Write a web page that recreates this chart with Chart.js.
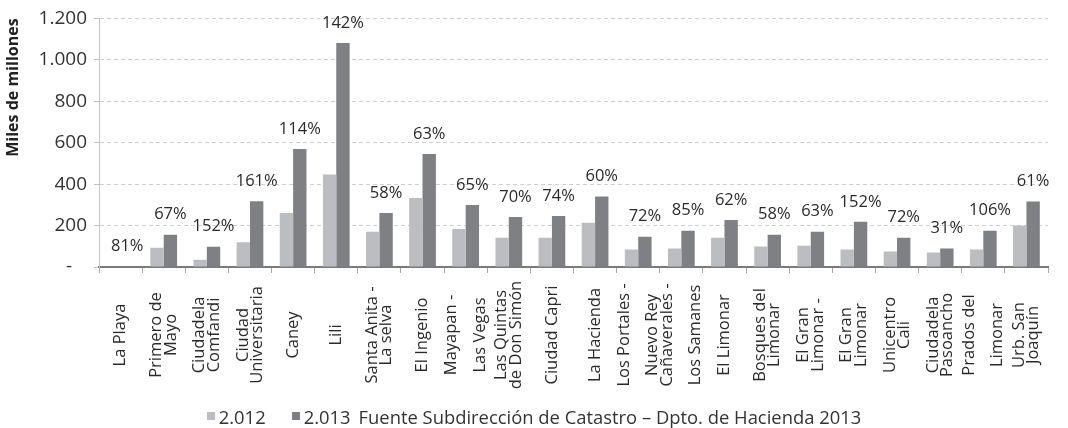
<!DOCTYPE html>
<html>
<head>
<meta charset="utf-8">
<script src="https://cdn.jsdelivr.net/npm/chart.js@4.4.1/dist/chart.umd.min.js"></script>
<style>
  html, body { margin: 0; padding: 0; background: #ffffff; }
  #wrap { position: relative; width: 1068px; height: 428px; overflow: hidden; }
  #c { position: absolute; left: 0; top: 0; }
  #legend { position: absolute; left: 0; top: 404px; width: 1068px; height: 24px;
            display: flex; justify-content: center; align-items: center;
            font-family: 'Open Sans', sans-serif; font-size: 18.4px; color: #333333; white-space: nowrap; }
  #legend .box { display: inline-block; width: 8px; height: 8px; margin-right: 4px; }
  #legend .gap1 { display: inline-block; width: 26px; }
  #legend .gap2 { display: inline-block; width: 8px; }
</style>
</head>
<body>
<div id="wrap">
  <canvas id="c" width="1068" height="428"></canvas>
  <div id="legend"></div>
</div>
<script>
// ---------- data ----------
const categories = [
  'La Playa',
  ['Primero de', 'Mayo'],
  ['Ciudadela', 'Comfandi'],
  ['Ciudad', 'Universitaria'],
  'Caney',
  'Lili',
  ['Santa Anita -', 'La selva'],
  'El Ingenio',
  ['Mayapan -', '', 'Las Vegas'],
  ['Las Quintas', 'de Don Simón'],
  'Ciudad Capri',
  'La Hacienda',
  ['Los Portales -', '', 'Nuevo Rey'],
  ['Cañaverales -', '', 'Los Samanes'],
  'El Limonar',
  ['Bosques del', 'Limonar'],
  ['El Gran', 'Limonar -'],
  ['El Gran', 'Limonar'],
  ['Unicentro', 'Cali'],
  ['Ciudadela', 'Pasoancho'],
  ['Prados del', '', 'Limonar'],
  ['Urb. San', 'Joaquín']
];
const values2012 = [2.5, 93, 35, 120, 261, 447, 170, 333, 183, 141, 141, 213, 84, 89, 141, 99, 103, 84, 75, 70, 84, 200];
const values2013 = [4.5, 156, 98, 317, 570, 1081, 261, 546, 299, 241, 246, 340, 146, 175, 227, 156, 170, 218, 141, 89, 175, 316];
const pctLabels = ['81%', '67%', '152%', '161%', '114%', '142%', '58%', '63%', '65%', '70%', '74%',
                   '60%', '72%', '85%', '62%', '58%', '63%', '152%', '72%', '31%', '106%', '61%'];
const yTickLabels = ['-', '200', '400', '600', '800', '1.000', '1.200'];
const seriesNames = ['2.012', '2.013'];
const yAxisTitle = 'Miles de millones';
const sourceNote = 'Fuente Subdirección de Catastro – Dpto. de Hacienda 2013';

// ---------- styles ----------
const COLOR_2012 = '#bcbdc0';
const COLOR_2013 = '#7f8084';
const TEXT_COLOR = '#2a2a2a';
const FONT = "'Open Sans', sans-serif";
const X_LABEL_CENTER_Y = 335;

// ---------- legend (HTML text) ----------
(function buildLegend() {
  const lg = document.getElementById('legend');
  const mk = (tag, cls, txt, bg) => {
    const e = document.createElement(tag);
    if (cls) e.className = cls;
    if (txt) e.textContent = txt;
    if (bg) e.style.background = bg;
    lg.appendChild(e);
  };
  mk('span', 'box', null, COLOR_2012);
  mk('span', null, seriesNames[0]);
  mk('span', 'gap1');
  mk('span', 'box', null, COLOR_2013);
  mk('span', null, seriesNames[1]);
  mk('span', 'gap2');
  mk('span', null, sourceNote);
})();

// ---------- plugins ----------
const centerXLabels = {
  id: 'centerXLabels',
  beforeDraw(chart) {
    const sc = chart.scales.x;
    if (!sc || typeof sc.getLabelItems !== 'function') return;
    const items = sc.getLabelItems();
    items.forEach((it, i) => {
      const n = Array.isArray(it.label) ? it.label.length : 1;
      const lh = it.font.lineHeight;
      it.options.textAlign = 'center';
      it.options.textBaseline = 'middle';
      it.options.translation = [sc.getPixelForTick(i), X_LABEL_CENTER_Y];
      it.textOffset = -(n - 1) * lh / 2;
    });
  }
};

const pctPlugin = {
  id: 'pctLabels',
  afterDatasetsDraw(chart) {
    const meta = chart.getDatasetMeta(1);
    const ctx = chart.ctx;
    ctx.save();
    ctx.font = "16.5px " + FONT;
    ctx.fillStyle = TEXT_COLOR;
    ctx.textAlign = 'center';
    ctx.textBaseline = 'middle';
    meta.data.forEach((bar, i) => {
      ctx.fillText(pctLabels[i], bar.x, bar.y - 20);
    });
    ctx.restore();
  }
};

// ---------- chart ----------
new Chart(document.getElementById('c'), {
  type: 'bar',
  data: {
    labels: categories,
    datasets: [
      { label: seriesNames[0], data: values2012, backgroundColor: COLOR_2012,
        categoryPercentage: 0.62, barPercentage: 1.0 },
      { label: seriesNames[1], data: values2013, backgroundColor: COLOR_2013,
        categoryPercentage: 0.62, barPercentage: 1.0 }
    ]
  },
  options: {
    responsive: false,
    animation: false,
    layout: { padding: { top: 14, right: 20, bottom: 0, left: 0 } },
    plugins: {
      legend: { display: false },
      tooltip: { enabled: false }
    },
    scales: {
      x: {
        offset: true,
        grid: { display: true, drawOnChartArea: false, drawTicks: true, tickLength: 6,
                tickColor: '#a8a8a8', offset: true },
        border: { display: true, color: '#7a7a7a', width: 2 },
        ticks: { autoSkip: false, maxRotation: 90, minRotation: 90, color: TEXT_COLOR,
                 font: { family: FONT, size: 16.5, lineHeight: 0.87 } },
        afterFit(scale) { scale.height = 428 - 267; }
      },
      y: {
        min: 0, max: 1200,
        ticks: { stepSize: 200, color: '#333333', padding: 7,
                 font: { family: FONT, size: 19 },
                 callback: (v) => { const t = yTickLabels[Math.round(v / 200)]; return t === '-' ? '-   ' : t; } },
        grid: { color: '#cfcfcf', tickLength: 5, tickColor: '#bfbfbf', tickBorderDash: [] },
        border: { display: true, color: '#c4c4c4', width: 1, dash: [4, 3] },
        title: { display: true, text: yAxisTitle, align: 'end', color: '#222222',
                 font: { family: FONT, size: 16, weight: 'bold' }, padding: { top: 4, bottom: 0 } },
        afterFit(scale) { scale.width = 99; }
      }
    }
  },
  plugins: [centerXLabels, pctPlugin]
});
</script>
</body>
</html>
